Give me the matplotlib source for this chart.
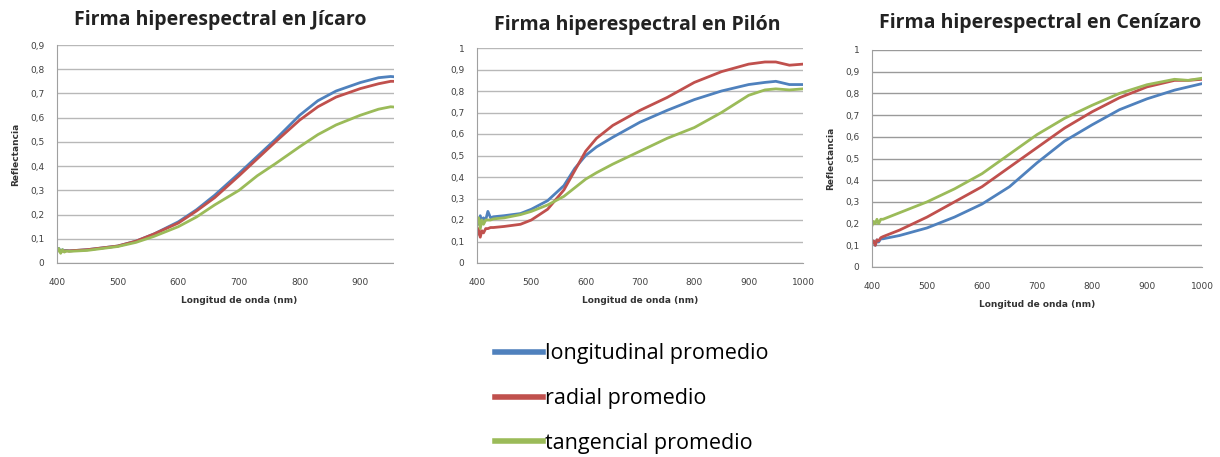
import numpy as np
import matplotlib.pyplot as plt
from matplotlib.patches import Rectangle

# colores estilo Excel
c_lon = '#4F81BD'
c_rad = '#C0504D'
c_tan = '#9BBB59'

# Jícaro
x_j = [400, 403, 406, 409, 412, 416, 420, 450, 500, 530, 560, 600, 630, 660, 700, 730, 760, 800, 830, 860, 900, 930, 950, 975, 1000]
lon_j = [0.05, 0.06, 0.045, 0.055, 0.05, 0.052, 0.05, 0.055, 0.07, 0.09, 0.12, 0.17, 0.22, 0.28, 0.37, 0.44, 0.51, 0.61, 0.67, 0.71, 0.745, 0.765, 0.77, 0.765, 0.775]
rad_j = [0.05, 0.055, 0.045, 0.05, 0.05, 0.05, 0.05, 0.055, 0.07, 0.09, 0.12, 0.165, 0.215, 0.27, 0.36, 0.43, 0.50, 0.59, 0.645, 0.685, 0.72, 0.74, 0.75, 0.75, 0.755]
tan_j = [0.045, 0.06, 0.04, 0.055, 0.045, 0.05, 0.048, 0.052, 0.068, 0.085, 0.11, 0.15, 0.19, 0.24, 0.30, 0.36, 0.41, 0.48, 0.53, 0.57, 0.61, 0.635, 0.645, 0.64, 0.655]

# Pilón
x_p = [400, 403, 406, 409, 412, 416, 420, 425, 430, 450, 480, 500, 530, 560, 580, 600, 620, 650, 700, 750, 800, 850, 900, 930, 950, 975, 1000]
lon_p = [0.21, 0.18, 0.22, 0.19, 0.21, 0.2, 0.24, 0.21, 0.215, 0.22, 0.23, 0.25, 0.29, 0.36, 0.44, 0.50, 0.54, 0.585, 0.655, 0.71, 0.76, 0.80, 0.83, 0.84, 0.845, 0.83, 0.83]
rad_p = [0.13, 0.16, 0.12, 0.15, 0.14, 0.16, 0.16, 0.165, 0.165, 0.17, 0.18, 0.20, 0.25, 0.34, 0.43, 0.52, 0.58, 0.64, 0.71, 0.77, 0.84, 0.89, 0.925, 0.935, 0.935, 0.92, 0.925]
tan_p = [0.19, 0.21, 0.16, 0.2, 0.18, 0.2, 0.2, 0.2, 0.205, 0.21, 0.225, 0.24, 0.27, 0.31, 0.35, 0.39, 0.42, 0.46, 0.52, 0.58, 0.63, 0.70, 0.78, 0.805, 0.81, 0.805, 0.81]

# Cenízaro
x_c = [400, 403, 406, 409, 412, 416, 420, 450, 500, 550, 600, 650, 700, 750, 800, 850, 900, 950, 975, 1000]
lon_c = [0.11, 0.12, 0.1, 0.125, 0.115, 0.13, 0.13, 0.145, 0.18, 0.23, 0.29, 0.37, 0.48, 0.58, 0.655, 0.725, 0.775, 0.815, 0.83, 0.845]
rad_c = [0.11, 0.12, 0.1, 0.125, 0.12, 0.135, 0.14, 0.17, 0.23, 0.30, 0.37, 0.46, 0.55, 0.64, 0.715, 0.78, 0.83, 0.86, 0.86, 0.865]
tan_c = [0.19, 0.21, 0.2, 0.22, 0.2, 0.22, 0.22, 0.25, 0.30, 0.36, 0.43, 0.52, 0.61, 0.685, 0.745, 0.80, 0.84, 0.865, 0.86, 0.87]

titulos = ['Firma hiperespectral en Jícaro', 'Firma hiperespectral en Pilón', 'Firma hiperespectral en Cenízaro']
series = [(x_j, lon_j, rad_j, tan_j), (x_p, lon_p, rad_p, tan_p), (x_c, lon_c, rad_c, tan_c)]
ymax = [0.9, 1.0, 1.0]
nombres = ['longitudinal promedio', 'radial promedio', 'tangencial promedio']

W, H = 1220, 457
fig = plt.figure(figsize=(12.2, 4.57), dpi=100)

# posiciones en pixeles (izq, der, arriba, abajo)
cajas = [(57, 421, 45, 263), (477, 803, 48, 263), (872, 1202, 50, 267)]
tit_pos = [(220, 20), (637, 25), (1040, 23)]

lineas = []
for i in range(3):
    l, r, t, b = cajas[i]
    ax = fig.add_axes([l / W, 1 - b / H, (r - l) / W, (b - t) / H])
    x, lo, ra, ta = series[i]
    h1, = ax.plot(x, lo, color=c_lon, lw=2)
    h2, = ax.plot(x, ra, color=c_rad, lw=2)
    h3, = ax.plot(x, ta, color=c_tan, lw=2)
    lineas = [h1, h2, h3]
    ax.set_xlim(400, 1000)
    ax.set_ylim(0, ymax[i])
    ax.set_xticks(np.arange(400, 1001, 100))
    yt = np.round(np.arange(0, ymax[i] + 0.01, 0.1), 1)
    ax.set_yticks(yt)
    ax.set_yticklabels([('%g' % v).replace('.', ',') for v in yt])
    ax.grid(axis='y', color='#9a9a9a' if i == 2 else '#b8b8b8', lw=1)
    ax.set_axisbelow(True)
    for s in ['top', 'right']:
        ax.spines[s].set_visible(False)
    ax.spines['left'].set_color('#a0a0a0')
    ax.spines['bottom'].set_color('#a0a0a0')
    ax.tick_params(length=0, labelsize=6.5, colors='#404040')
    ax.tick_params(axis='x', pad=10.5)
    ax.tick_params(axis='y', pad=9)
    ax.set_xlabel('Longitud de onda (nm)', fontsize=6.5, fontweight='bold', color='#333333', labelpad=6.5)
    ax.set_ylabel('Reflectancia', fontsize=6.5, fontweight='bold', color='#333333', labelpad=7)
    fig.text(tit_pos[i][0] / W, 1 - tit_pos[i][1] / H, titulos[i], ha='center', va='center',
             fontsize=14, fontweight='bold', family='Open Sans', color='#222222')

# el primer grafico esta recortado a la derecha
fig.patches.append(Rectangle((394 / W, 1 - 310 / H), 44 / W, 310 / H, transform=fig.transFigure,
                             facecolor='white', edgecolor='none', zorder=5))

fig.legend(lineas, nombres, loc='upper left', bbox_to_anchor=(476 / W, 1 - 324 / H),
           frameon=False, handlelength=2.2, handletextpad=0.12,
           labelspacing=1.1, prop={'family': 'Open Sans', 'size': 15.5})
for lh in fig.legends[0].get_lines():
    lh.set_linewidth(4)

plt.savefig('out.png', dpi=100)
